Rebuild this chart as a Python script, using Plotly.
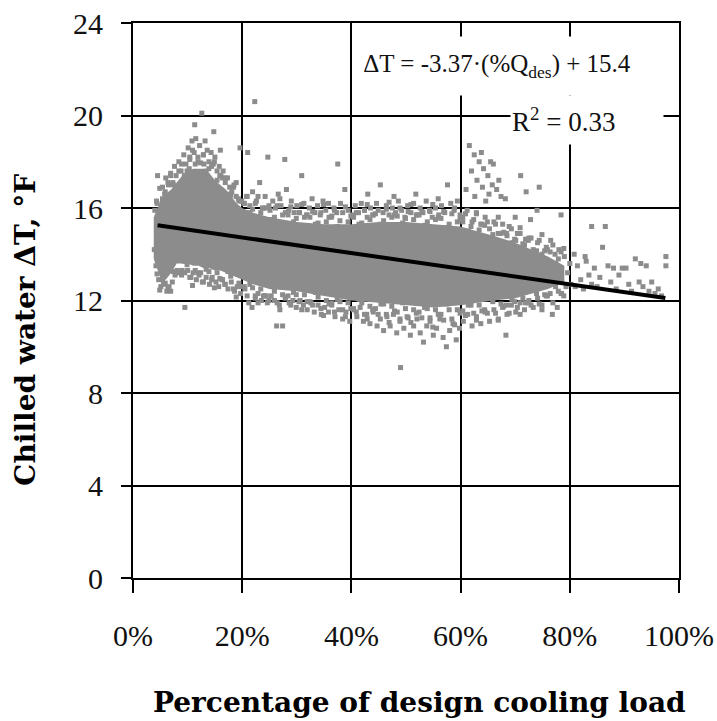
import plotly.graph_objects as go

# ---- Dense core of the scatter cloud (envelope) ----
core_x = [3.8, 5, 6, 7, 8, 9, 10, 11, 12, 13, 14, 15, 16, 17, 18, 19, 20, 22, 25, 30,
          35, 40, 45, 50, 55, 60, 63, 66, 70, 73, 76, 79]
core_top = [15.6, 16.3, 16.6, 16.8, 17.1, 17.4, 17.6, 17.7, 17.7, 17.7, 17.5, 17.2, 17.0, 16.8, 16.5, 16.2,
            16.0, 15.8, 15.6, 15.4, 15.3, 15.3, 15.4, 15.4, 15.3, 15.2, 15.0, 14.8, 14.5, 14.2, 13.9, 13.5]
core_bot = [13.8, 13.0, 12.9, 13.2, 13.6, 13.6, 13.6, 13.5, 13.5, 13.4, 13.4, 13.3, 13.3, 13.2, 13.1, 13.0,
            12.9, 12.7, 12.5, 12.4, 12.2, 12.0, 11.9, 11.8, 11.7, 11.8, 11.9, 12.0, 12.1, 12.3, 12.5, 12.8]

# ---- Points along the upper and lower edges of the dense core ----
edge_x = [
    4.4, 5.4, 6.4, 7.4, 8.4, 9.4, 10.4, 11.4, 12.4, 13.4, 14.4, 15.4, 16.4, 17.4, 18.4, 19.4,
    20.4, 21.4, 22.4, 23.4, 24.4, 25.4, 26.4, 27.4, 28.4, 29.4, 30.4, 31.4, 32.4, 33.4, 34.4, 35.4,
    36.4, 37.4, 38.4, 39.4, 40.4, 41.4, 42.4, 43.4, 44.4, 45.4, 46.4, 47.4, 48.4, 49.4, 50.4, 51.4,
    52.4, 53.4, 54.4, 55.4, 56.4, 57.4, 58.4, 59.4, 60.4, 61.4, 62.4, 63.4, 64.4, 65.4, 66.4, 67.4,
    68.4, 69.4, 70.4, 71.4, 72.4, 73.4, 74.4, 75.4, 76.4, 77.4, 78.4,
    4.9, 5.9, 6.9, 7.9, 8.9, 9.9, 10.9, 11.9, 12.9, 13.9, 14.9, 15.9, 16.9, 17.9, 18.9, 19.9,
    20.9, 21.9, 22.9, 23.9, 24.9, 25.9, 26.9, 27.9, 28.9, 29.9, 30.9, 31.9, 32.9, 33.9, 34.9, 35.9,
    36.9, 37.9, 38.9, 39.9, 40.9, 41.9, 42.9, 43.9, 44.9, 45.9, 46.9, 47.9, 48.9, 49.9, 50.9, 51.9,
    52.9, 53.9, 54.9, 55.9, 56.9, 57.9, 58.9, 59.9, 60.9, 61.9, 62.9, 63.9, 64.9, 65.9, 66.9, 67.9,
    68.9, 69.9, 70.9, 71.9, 72.9, 73.9, 74.9, 75.9, 76.9, 77.9, 78.9,
    4.4, 5.4, 6.4, 7.4, 8.4, 9.4, 10.4, 11.4, 12.4, 13.4, 14.4, 15.4, 16.4, 17.4, 18.4, 19.4,
    20.4, 21.4, 22.4, 23.4, 24.4, 25.4, 26.4, 27.4, 28.4, 29.4, 30.4, 31.4, 32.4, 33.4, 34.4, 35.4,
    36.4, 37.4, 38.4, 39.4, 40.4, 41.4, 42.4, 43.4, 44.4, 45.4, 46.4, 47.4, 48.4, 49.4, 50.4, 51.4,
    52.4, 53.4, 54.4, 55.4, 56.4, 57.4, 58.4, 59.4, 60.4, 61.4, 62.4, 63.4, 64.4, 65.4, 66.4, 67.4,
    68.4, 69.4, 70.4, 71.4, 72.4, 73.4, 74.4, 75.4, 76.4, 77.4, 78.4,
    4.9, 5.9, 6.9, 7.9, 8.9, 9.9, 10.9, 11.9, 12.9, 13.9, 14.9, 15.9, 16.9, 17.9, 18.9, 19.9,
    20.9, 21.9, 22.9, 23.9, 24.9, 25.9, 26.9, 27.9, 28.9, 29.9, 30.9, 31.9, 32.9, 33.9, 34.9, 35.9,
    36.9, 37.9, 38.9, 39.9, 40.9, 41.9, 42.9, 43.9, 44.9, 45.9, 46.9, 47.9, 48.9, 49.9, 50.9, 51.9,
    52.9, 53.9, 54.9, 55.9, 56.9, 57.9, 58.9, 59.9, 60.9, 61.9, 62.9, 63.9, 64.9, 65.9, 66.9, 67.9,
    68.9, 69.9, 70.9, 71.9, 72.9, 73.9, 74.9, 75.9, 76.9, 77.9, 78.9,
]
edge_y = [
    16.2, 16.4, 17.1, 17.0, 17.6, 17.4, 18.2, 17.9, 17.95, 17.6, 17.8, 17.2, 17.3, 16.6, 16.9, 16.3,
    16.2, 15.8, 16.2, 15.8, 16.0, 15.5, 16.1, 15.7, 15.7, 15.4, 15.8, 15.6, 15.6, 15.3, 15.8, 15.4,
    15.65, 15.2, 15.8, 15.4, 15.6, 15.3, 15.9, 15.5, 15.75, 15.3, 15.95, 15.6, 15.65, 15.35, 15.85, 15.5,
    15.7, 15.25, 15.85, 15.5, 15.55, 15.15, 15.75, 15.4, 15.4, 15.0, 15.5, 15.05, 15.25, 14.7, 15.3, 14.9,
    14.9, 14.5, 14.9, 14.45, 14.6, 14.05, 14.6, 14.15, 14.1, 13.6, 14.1,
    16.85, 16.7, 17.5, 17.4, 17.9, 17.6, 18.5, 18.0, 18.3, 17.7, 18.0, 17.4, 17.3, 16.55, 17.1, 16.3,
    16.5, 15.95, 16.5, 16.0, 16.1, 15.6, 16.4, 15.8, 16.05, 15.55, 16.15, 15.7, 15.85, 15.35, 16.15, 15.6,
    15.9, 15.45, 16.05, 15.65, 15.8, 15.35, 16.15, 15.7, 15.9, 15.45, 16.25, 15.7, 16.0, 15.55, 16.15, 15.7,
    15.85, 15.4, 16.15, 15.6, 15.85, 15.3, 16.0, 15.5, 15.75, 15.2, 15.75, 15.3, 15.4, 14.85, 15.6, 14.95,
    15.2, 14.65, 15.15, 14.65, 14.7, 14.15, 14.85, 14.2, 14.4, 13.8, 14.25,
    13.15, 12.9, 12.55, 13.25, 13.25, 13.7, 13.0, 13.3, 13.2, 13.35, 12.9, 13.2, 12.9, 13.25, 12.5, 12.75,
    12.6, 12.7, 12.2, 12.5, 12.2, 12.6, 11.9, 12.25, 12.2, 12.35, 11.95, 12.25, 11.95, 12.35, 11.65, 12.0,
    11.9, 12.05, 11.6, 11.9, 11.65, 12.05, 11.4, 11.75, 11.65, 11.85, 11.4, 11.75, 11.5, 11.9, 11.25, 11.6,
    11.5, 11.7, 11.25, 11.6, 11.4, 11.85, 11.2, 11.6, 11.55, 11.8, 11.45, 11.8, 11.6, 12.1, 11.45, 11.85,
    11.8, 12.05, 11.7, 12.1, 11.9, 12.45, 11.85, 12.25, 12.3, 12.6, 12.3,
    12.45, 12.75, 12.4, 13.2, 13.1, 13.55, 12.65, 13.2, 12.8, 13.25, 12.55, 12.95, 12.7, 13.05, 12.15, 12.6,
    12.2, 12.55, 11.9, 12.2, 12.0, 12.4, 11.6, 12.15, 11.8, 12.25, 11.6, 11.95, 11.8, 12.15, 11.35, 11.85,
    11.5, 11.95, 11.3, 11.65, 11.5, 11.9, 11.2, 11.6, 11.4, 11.85, 11.05, 11.55, 11.2, 11.65, 11.05, 11.45,
    11.25, 11.65, 10.85, 11.4, 11.15, 11.6, 10.95, 11.45, 11.35, 11.8, 11.15, 11.55, 11.45, 11.95, 11.15, 11.75,
    11.45, 11.95, 11.4, 11.9, 11.8, 12.3, 11.6, 12.2, 11.9, 12.4, 12.2,
]

# ---- Scattered points away from the core (percent of design load, delta T in F) ----
load_pct = [
    3.9, 4.0, 4.3, 4.5, 4.2, 4.7, 5.1, 5.4, 5.8, 6.2,
    6.0, 6.5, 6.9, 7.3, 7.6, 7.2, 7.7, 8.1, 8.4, 8.8,
    5.6, 6.6, 8.6, 9.0,
    9.3, 9.7, 10.1, 10.4, 10.8, 11.2, 11.5, 11.9, 12.2, 12.6,
    12.9, 13.2, 13.6, 13.9, 14.3, 14.7, 15.0, 15.4, 15.8, 16.1,
    16.5, 16.9, 17.3, 17.7, 18.1, 18.5, 18.9, 19.3, 19.6, 21.0,
    9.5, 10.0, 10.6, 11.0, 11.6, 12.1, 12.7, 13.4, 14.0, 14.5,
    15.2, 15.7, 16.3, 16.8, 17.4, 18.0, 18.6, 19.1, 19.7, 9.5,
    14.8, 11.3, 16.0, 13.0, 10.3,
    20.3, 20.8, 21.4, 21.9, 22.3, 22.6, 23.2, 23.7, 24.2, 24.7,
    25.1, 25.6, 26.1, 26.6, 27.1, 27.8, 28.1, 28.5, 29.0, 29.5,
    30.0, 30.5, 30.9, 31.3, 31.8, 32.3, 32.8, 33.3, 33.8, 34.3,
    34.8, 35.3, 35.8, 36.3, 36.8, 37.3, 37.5, 38.0, 38.8, 39.4,
    20.5, 21.2, 21.8, 22.4, 22.9, 23.5, 24.1, 24.6, 25.3, 25.9,
    26.3, 27.4, 26.8, 27.9, 28.6, 29.3, 29.9, 30.6, 31.2, 31.9,
    32.6, 33.2, 33.9, 34.5, 35.1, 35.8, 36.4, 37.0, 37.7, 38.4,
    39.0, 39.7,
    40.2, 40.7, 41.3, 41.8, 42.4, 42.9, 43.5, 44.0, 44.6, 45.3,
    45.8, 46.4, 46.9, 47.5, 48.1, 48.6, 49.2, 49.8, 50.3, 50.9,
    51.4, 52.0, 52.6, 53.1, 53.7, 54.3, 54.8, 55.4, 56.0, 56.5,
    57.1, 57.6, 58.2, 58.8, 59.4, 59.9, 43.0, 47.8, 51.8, 55.9,
    40.4, 41.0, 41.6, 42.2, 42.8, 43.4, 44.0, 44.7, 45.3, 45.9,
    46.5, 47.1, 47.7, 48.3, 48.9, 49.0, 49.6, 50.2, 50.8, 51.4,
    52.0, 52.6, 53.2, 53.8, 54.4, 55.0, 55.6, 56.2, 56.8, 57.4,
    58.0, 58.6, 59.2, 59.8,
    61.0, 61.6, 62.0, 62.5, 62.6, 63.0, 63.4, 63.8, 64.0, 64.2,
    65.0, 65.2, 65.5, 65.8, 66.0, 66.6, 67.4, 68.2, 67.0, 64.6,
    60.4, 61.2, 62.1, 62.9, 63.7, 64.5, 65.3, 66.1, 66.9, 67.7,
    68.5, 69.3, 70.1, 70.0, 70.9, 71.7, 72.5, 72.8, 73.3, 74.0,
    74.1, 74.9, 75.7, 71.0, 72.0, 74.4, 78.4, 76.5, 77.3, 78.0,
    60.5, 61.3, 62.1, 62.9, 63.7, 64.5, 65.3, 66.1, 66.9, 67.7,
    68.3, 68.5, 69.3, 70.1, 70.9, 71.7, 72.5, 73.3, 74.1, 74.9,
    75.7, 76.8, 77.7, 78.5, 79.3,
    79.0, 79.6, 80.2, 80.8, 81.4, 82.0, 82.5, 83.0, 83.5, 84.0,
    84.0, 84.5, 85.0, 85.5, 86.0, 86.5, 87.0, 87.5, 88.0, 88.5,
    89.0, 89.6, 90.3, 90.8, 91.3, 92.0, 92.7, 93.0, 93.4, 94.0,
    94.5, 95.0, 95.6, 96.2, 96.8, 97.6, 97.6, 80.0, 81.0, 82.8,
]
delta_t = [
    14.2, 15.9, 16.3, 17.4, 13.5, 12.9, 12.6, 16.9, 16.6, 12.4,
    17.3, 17.0, 17.4, 17.1, 17.8, 12.8, 13.1, 13.3, 18.0, 17.6,
    12.7, 12.6, 13.2, 13.3,
    18.3, 17.9, 18.6, 18.1, 18.9, 18.4, 19.0, 18.2, 18.7, 20.1,
    18.3, 18.9, 18.5, 18.0, 18.4, 17.9, 18.2, 17.6, 17.8, 17.4,
    17.6, 17.1, 17.3, 16.9, 16.7, 17.0, 16.5, 16.4, 18.6, 18.4,
    13.2, 13.3, 13.0, 13.2, 12.9, 13.1, 12.8, 13.0, 12.7, 13.0,
    12.8, 12.6, 12.9, 12.7, 12.5, 12.8, 12.4, 12.6, 12.3, 11.7,
    19.3, 19.6, 18.5, 17.9, 17.7,
    16.2, 16.5, 16.1, 16.7, 20.6, 16.3, 17.1, 16.0, 16.5, 18.2,
    15.9, 16.3, 16.0, 16.6, 16.1, 18.1, 16.8, 15.9, 16.3, 15.8,
    16.1, 15.8, 17.4, 16.2, 15.7, 16.0, 16.4, 15.8, 16.1, 15.7,
    16.3, 15.9, 16.2, 15.6, 16.0, 15.8, 17.9, 16.2, 16.8, 15.9,
    12.5, 11.9, 11.7, 12.1, 12.3, 12.0, 12.2, 11.9, 12.2, 12.0,
    10.9, 10.9, 11.8, 12.1, 11.9, 12.0, 11.7, 12.0, 11.8, 11.6,
    11.9, 11.5, 11.8, 11.4, 11.7, 11.5, 11.8, 11.3, 11.6, 11.2,
    11.5, 11.1,
    15.7, 16.1, 15.8, 16.2, 15.9, 15.6, 16.0, 15.7, 16.2, 17.0,
    15.8, 16.1, 15.7, 16.0, 15.8, 16.3, 15.9, 15.6, 16.1, 15.8,
    16.2, 15.7, 16.0, 15.8, 16.3, 15.9, 15.6, 16.0, 15.7, 16.1,
    15.8, 17.0, 16.2, 15.9, 16.3, 15.7, 16.6, 16.5, 16.6, 16.4,
    11.6, 11.3, 11.7, 11.1, 11.4, 11.0, 11.5, 10.9, 11.2, 10.7,
    11.3, 10.9, 11.4, 10.6, 11.1, 9.1, 10.8, 11.3, 10.5, 10.9,
    11.2, 10.6, 10.2, 10.9, 11.1, 10.5, 10.8, 11.2, 10.4, 10.0,
    10.7, 11.0, 10.3, 10.8,
    16.8, 18.7, 17.6, 18.3, 16.5, 17.2, 18.0, 18.4, 16.9, 17.7,
    17.4, 16.6, 18.0, 17.0, 17.9, 16.8, 16.5, 16.4, 17.2, 16.3,
    15.6, 15.9, 15.4, 15.8, 15.3, 15.6, 15.1, 15.4, 14.9, 15.3,
    14.8, 15.1, 14.6, 15.6, 14.9, 14.4, 14.7, 15.5, 14.2, 15.9,
    14.5, 14.0, 14.3, 17.4, 16.7, 16.9, 15.7, 14.6, 14.0, 14.2,
    11.1, 11.4, 10.9, 11.3, 11.0, 11.5, 11.1, 11.6, 11.2, 11.7,
    10.5, 11.4, 11.8, 11.5, 11.9, 11.6, 12.0, 11.7, 12.1, 11.8,
    12.2, 11.4, 11.7, 12.3, 12.6,
    13.9, 13.2, 12.7, 14.0, 13.5, 12.9, 12.5, 13.7, 13.1, 12.7,
    15.2, 13.4, 12.6, 13.0, 14.3, 15.2, 13.5, 12.8, 13.4, 12.5,
    13.1, 13.4, 13.4, 12.7, 12.4, 13.8, 12.8, 13.6, 12.6, 13.5,
    12.4, 12.8, 12.3, 12.5, 12.2, 13.9, 13.5, 13.6, 12.6, 13.9,
]

# ---- Linear fit end points ----
trend_x = [4.5, 97.5]
trend_y = [15.25, 12.11]

x_ticks = [0, 20, 40, 60, 80, 100]
y_ticks = [0, 4, 8, 12, 16, 20, 24]

GRAY = "#8c8c8c"
SERIF = "Liberation Serif"
MARK = dict(symbol="square", size=5, color=GRAY, line=dict(width=0))

fig = go.Figure()
fig.add_trace(go.Scatter(x=core_x, y=core_top, mode="lines", line=dict(width=0, color=GRAY),
                         showlegend=False, hoverinfo="skip"))
fig.add_trace(go.Scatter(x=core_x, y=core_bot, mode="lines", line=dict(width=0, color=GRAY),
                         fill="tonexty", fillcolor=GRAY, showlegend=False, hoverinfo="skip"))
fig.add_trace(go.Scatter(x=edge_x, y=edge_y, mode="markers", marker=MARK, showlegend=False))
fig.add_trace(go.Scatter(x=load_pct, y=delta_t, mode="markers", marker=MARK, showlegend=False))
fig.add_trace(go.Scatter(x=trend_x, y=trend_y, mode="lines", line=dict(color="black", width=4),
                         showlegend=False))

axis_common = dict(showgrid=True, gridcolor="black", gridwidth=1.5, showline=True, linecolor="black",
                   linewidth=2, mirror=True, ticks="outside", tickcolor="black", tickwidth=1.5,
                   zeroline=False, automargin=False, tickfont=dict(family=SERIF, size=30, color="#111"))

fig.update_xaxes(range=[0, 100], tickvals=x_ticks, ticktext=[f"{v}%" for v in x_ticks],
                 ticklen=13, ticklabelstandoff=17, **axis_common)
fig.update_yaxes(range=[0, 24], tickvals=y_ticks, ticklen=10, ticklabelstandoff=12, **axis_common)

fig.add_annotation(text="ΔT = -3.37·(%Q<sub>des</sub>) + 15.4", x=66.7, y=22.15, xref="x", yref="y",
                   showarrow=False, bgcolor="white", width=272, height=56,
                   font=dict(family=SERIF, size=25, color="#111"))
fig.add_annotation(text="R<sup>2</sup> = 0.33", x=83.2, y=19.8, xref="x", yref="y",
                   showarrow=False, bgcolor="white", width=150, height=46, align="left",
                   font=dict(family=SERIF, size=27, color="#111"))

fig.add_annotation(text="<b>Percentage of design cooling load</b>", x=0.524, y=-0.225,
                   xref="paper", yref="paper", showarrow=False, xanchor="center", yanchor="middle",
                   font=dict(family="DejaVu Serif", size=28, color="black"))
fig.add_annotation(text="<b>Chilled water ΔT, °F</b>", x=-0.196, y=0.447, textangle=-90,
                   xref="paper", yref="paper", showarrow=False, xanchor="center", yanchor="middle",
                   font=dict(family="DejaVu Serif", size=28, color="black"))

fig.update_layout(width=717, height=721, margin=dict(l=133, r=38, t=23, b=143),
                  paper_bgcolor="white", plot_bgcolor="white")

fig.write_html("out.html")
